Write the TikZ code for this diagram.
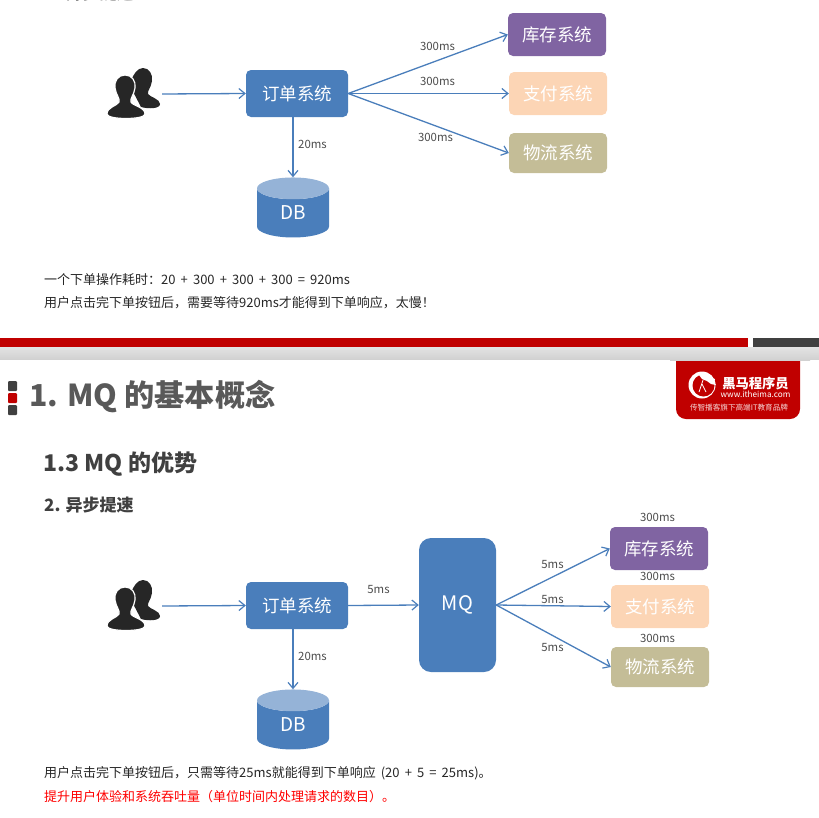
\documentclass[tikz,border=0pt]{standalone}
\usepackage{fontspec}
\setmainfont{Noto Sans CJK SC}
\newfontfamily\notefont[WordSpace=1.75]{Noto Sans CJK SC}
\usepackage{tikz}
\usetikzlibrary{arrows.meta,shapes.geometric}
\definecolor{boxblue}{HTML}{4A7EBB}
\definecolor{dbtop}{HTML}{95B3D7}
\definecolor{stockpurple}{HTML}{8064A2}
\definecolor{paypeach}{HTML}{FCD5B5}
\definecolor{shiptan}{HTML}{C4BD97}
\definecolor{barred}{HTML}{C00000}
\definecolor{bardark}{HTML}{404040}
\tikzset{%
  system/.style={rectangle,rounded corners=5pt,inner sep=0pt,text=white,
    font=\fontsize{17.5}{18}\selectfont,fill=#1},
  system/.default=boxblue,
  link/.style={line width=1.3pt,draw=boxblue,-{Straight Barb[length=6pt,width=10pt,line width=1.2pt]}},
  time/.style={inner sep=0pt,text=black!70,font=\fontsize{11.4}{12}\selectfont},
  db/.style={cylinder,shape border rotate=90,aspect=0.85,inner sep=0pt,
    minimum width=72pt,minimum height=60pt,cylinder uses custom fill,
    cylinder body fill=boxblue,cylinder end fill=dbtop,text=white,
    font=\fontsize{19}{20}\selectfont},
  note/.style={anchor=west,inner sep=0pt,text=black!85,font=\notefont\fontsize{13}{14}\selectfont},
  usericon/.style={inner sep=0pt,minimum width=54pt,minimum height=52pt},
  crumb/.style={rounded corners=1pt,fill=#1},
  crumb/.default=bardark,
  users/.pic={
    % back figure, then front figure with a white edge
    \fill[black!85] (10,-26) .. controls (16,-26) and (20,-20) .. (19,-13)
      .. controls (18,-6) and (14,-3) .. (15,0) .. controls (17,3) and (27,5) .. (27,10)
      .. controls (27,15) and (15,15) .. (8,13) -- (-4,-10)
      .. controls (1,-20) and (4,-26) .. (10,-26) -- cycle;
    \fill[black!85,draw=white,line width=1.2pt] (-8,-19) .. controls (-1,-19) and (3,-13) .. (2,-6)
      .. controls (1,1) and (-3,4) .. (-2,8) .. controls (0,12) and (12,13) .. (12,20)
      .. controls (12,26) and (-26,26) .. (-26,20) .. controls (-26,13) and (-16,12) .. (-14,8)
      .. controls (-13,4) and (-17,1) .. (-18,-6) .. controls (-19,-13) and (-15,-19) .. (-8,-19) -- cycle;
  }
}

\begin{document}
\begin{tikzpicture}[x=1pt,y=-1pt]

    \useasboundingbox (0,0) rectangle (819,817);
    \clip (0,0) rectangle (819,817);

    % heading of the slide above, cut by the top edge
    \node[anchor=west,inner sep=0pt,text=bardark,font=\fontsize{17}{18}\selectfont\bfseries] (oldhead) at (44,-6.5) {2. 异步提速};

    % Upper flow
    \node[usericon] (user1) at (133,94) {};
    \pic at (133,94) {users};
    \node[system,minimum width=102pt,minimum height=47pt] (order1) at (297,93.5) {订单系统};
    \node[system=stockpurple,minimum width=98pt,minimum height=43pt] (stock1) at (557,34.5) {库存系统};
    \node[system=paypeach,minimum width=98pt,minimum height=43pt] (pay1) at (558,93.5) {支付系统};
    \node[system=shiptan,minimum width=98pt,minimum height=40pt] (ship1) at (558,153) {物流系统};
    \node[db] (db1) at (293,213) {DB};

    \draw[link,shorten <=2pt] (user1.east) -- (order1.west);
    \draw[link] (order1.east) -- (stock1.west);
    \draw[link] (order1.east) -- (pay1.west);
    \draw[link] (order1.east) -- (ship1.west);
    \draw[link] (order1.south -| db1.north) -- (db1.north);

    \node[time] (t1) at (437.5,46.5) {300ms};
    \node[time] (t2) at (437.5,81) {300ms};
    \node[time] (t3) at (435.5,137.5) {300ms};
    \node[time] (t4) at (312.5,144.5) {20ms};

    \node[note] (line1) at (44,280) {一个下单操作耗时：20 + 300 + 300 + 300 = 920ms};
    \node[note] (line2) at (44,303) {用户点击完下单按钮后，需要等待920ms才能得到下单响应，太慢！};

    % Slide break
    \fill[barred] (0,338) rectangle (748,347);
    \fill[bardark] (753,338) rectangle (819,347);
    \shade[top color=black!11,bottom color=black!18] (0,347) rectangle (819,359);

    % Logo
    \fill[barred,rounded corners=10pt] (676,350) rectangle (800,419);
    \shade[top color=black!11,bottom color=black!18] (670,347) rectangle (810,360);
    \fill[white] (702,385) circle[radius=13.5];
    \fill[barred] (703.5,385.5) circle[radius=11];
    \fill[white] (699,375) -- (701,372.5) -- (704,373.5) -- (706,372.5) -- (708,375) -- (711,375) -- (712,378)
      -- (715,379) -- (714,382) -- (716,385) -- (711,384) -- (707,381) -- (702,379) -- cycle;
    \draw[white,line width=0.8pt] (703,380) -- (699,392);
    \draw[white,line width=0.8pt] (702,384) -- (706,392);
    \node[inner sep=0pt,text=white,font=\fontsize{13.3}{14}\selectfont\bfseries] (logoname) at (755.5,383) {黑马程序员};
    \node[inner sep=0pt,text=white,font=\fontsize{8.2}{9}\selectfont] (logourl) at (755.5,394) {www.itheima.com};
    \node[inner sep=0pt,text=white!85!barred,font=\fontsize{7.6}{8}\selectfont] (logotag) at (739,408) {传智播客旗下高端IT教育品牌};

    % Headings
    \fill[crumb] (8,381) rectangle (17,391);
    \fill[crumb=barred] (8,393) rectangle (17,403);
    \fill[crumb] (8,405) rectangle (17,415);
    \node[anchor=west,inner sep=0pt,text=black!65,font=\fontsize{30.2}{32}\selectfont\bfseries] (title) at (29,397) {1. MQ 的基本概念};
    \node[anchor=west,inner sep=0pt,text=bardark,font=\fontsize{23}{24}\selectfont\bfseries] (subtitle) at (43,464) {1.3 MQ 的优势};
    \node[anchor=west,inner sep=0pt,text=bardark,font=\fontsize{17}{18}\selectfont\bfseries] (head) at (44,505) {2. 异步提速};

    % Lower flow
    \node[usericon] (user2) at (133,606) {};
    \pic at (133,606) {users};
    \node[system,minimum width=102pt,minimum height=47pt] (order2) at (297,605.5) {订单系统};
    \node[system,rounded corners=12pt,minimum width=77pt,minimum height=134pt,font=\fontsize{20}{20}\selectfont] (mq) at (457.5,605) {MQ};
    \node[system=stockpurple,minimum width=98pt,minimum height=43pt] (stock2) at (659,548.5) {库存系统};
    \node[system=paypeach,minimum width=98pt,minimum height=43pt] (pay2) at (660,606.5) {支付系统};
    \node[system=shiptan,minimum width=98pt,minimum height=40pt] (ship2) at (660,667) {物流系统};
    \node[db] (db2) at (293,725) {DB};

    \draw[link,shorten <=2pt] (user2.east) -- (order2.west);
    \draw[link] (order2.east) -- (mq.west);
    \draw[link] (mq.east) -- (stock2.west);
    \draw[link] (mq.east) -- (pay2.west);
    \draw[link] (mq.east) -- (ship2.west);
    \draw[link] (order2.south -| db2.north) -- (db2.north);

    \node[time] (t5) at (378.5,590) {5ms};
    \node[time] (t6) at (552.5,564.5) {5ms};
    \node[time] (t7) at (552.5,599.5) {5ms};
    \node[time] (t8) at (552.5,647.5) {5ms};
    \node[time] (t9) at (657.5,517.5) {300ms};
    \node[time] (t10) at (657.5,576.5) {300ms};
    \node[time] (t11) at (657.5,638.5) {300ms};
    \node[time] (t12) at (312.5,656.5) {20ms};

    \node[note] (line3) at (44,773) {用户点击完下单按钮后，只需等待25ms就能得到下单响应 (20 + 5 = 25ms)。};
    \node[note,text=red] (line4) at (44,797) {提升用户体验和系统吞吐量（单位时间内处理请求的数目）。};

\end{tikzpicture}
\end{document}
